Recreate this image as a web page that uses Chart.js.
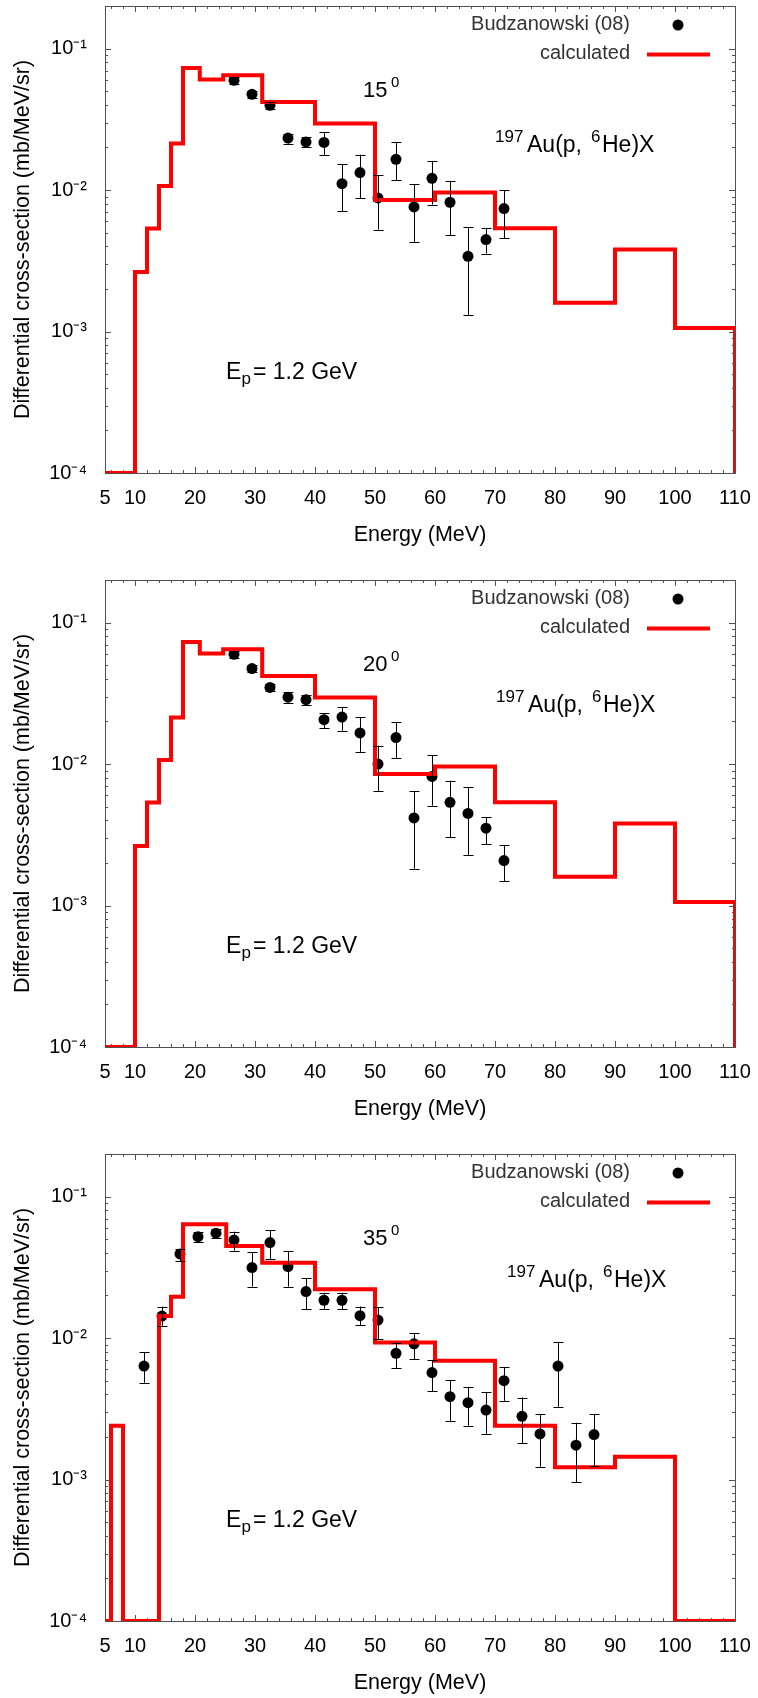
<!DOCTYPE html>
<html>
<head>
<meta charset="utf-8">
<script src="https://cdn.jsdelivr.net/npm/chart.js@4.4.1/dist/chart.umd.min.js"></script>
<style>
html, body { margin: 0; padding: 0; overflow: hidden; background: #fff; }
.panel { position: relative; width: 758px; height: 574px; }
</style>
</head>
<body>
<div class="panel"><canvas id="chart15"></canvas></div>
<div class="panel"><canvas id="chart20"></canvas></div>
<div class="panel"><canvas id="chart35"></canvas></div>
<script>
const FONT = "'Liberation Sans', Arial, Helvetica, sans-serif";

const xTickValues = [5, 10, 20, 30, 40, 50, 60, 70, 80, 90, 100, 110];
const yTickValues = [1e-4, 1e-3, 1e-2, 1e-1];

// Budzanowski (08), 15 deg
const energy15 = [26.5, 29.5, 32.5, 35.5, 38.5, 41.5, 44.5, 47.5, 50.5, 53.5, 56.5, 59.5, 62.5, 65.5, 68.5, 71.5];
const value15 = [0.0597, 0.0475, 0.0397, 0.0233, 0.0219, 0.0217, 0.0111, 0.0133, 0.0088, 0.0165, 0.0076, 0.0121, 0.0082, 0.0034, 0.00447, 0.0074];
const errLow15 = [0.0565, 0.0447, 0.0375, 0.0213, 0.0202, 0.0176, 0.0071, 0.0088, 0.00526, 0.0117, 0.0043, 0.0079, 0.0048, 0.00131, 0.00356, 0.00456];
const errHigh15 = [0.063, 0.0503, 0.042, 0.0251, 0.0237, 0.0258, 0.0152, 0.0178, 0.0127, 0.0217, 0.011, 0.0161, 0.0116, 0.0055, 0.0054, 0.0100];

// Budzanowski (08), 20 deg
const energy20 = [26.5, 29.5, 32.5, 35.5, 38.5, 41.5, 44.5, 47.5, 50.5, 53.5, 56.5, 59.5, 62.5, 65.5, 68.5, 71.5];
const value20 = [0.0597, 0.0473, 0.0348, 0.0297, 0.0285, 0.0206, 0.0215, 0.0166, 0.0100, 0.0154, 0.00416, 0.00818, 0.00536, 0.00448, 0.00352, 0.00208];
const errLow20 = [0.0565, 0.0445, 0.0328, 0.0272, 0.026, 0.0179, 0.0172, 0.0122, 0.00645, 0.0110, 0.00182, 0.00508, 0.00305, 0.00226, 0.00271, 0.00149];
const errHigh20 = [0.063, 0.050, 0.037, 0.0322, 0.031, 0.0229, 0.0252, 0.0215, 0.0135, 0.0198, 0.0064, 0.0115, 0.00762, 0.00689, 0.00423, 0.00268];

// Budzanowski (08), 35 deg
const energy35 = [11.5, 14.5, 17.5, 20.5, 23.5, 26.5, 29.5, 32.5, 35.5, 38.5, 41.5, 44.5, 47.5, 50.5, 53.5, 56.5, 59.5, 62.5, 65.5, 68.5, 71.5, 74.5, 77.5, 80.5, 83.5, 86.5];
const value35 = [0.00634, 0.0143, 0.0393, 0.0521, 0.0551, 0.0493, 0.0315, 0.0473, 0.032, 0.0213, 0.0185, 0.0185, 0.0144, 0.0134, 0.0078, 0.0091, 0.0057, 0.00385, 0.00349, 0.0031, 0.005, 0.0028, 0.0021, 0.00634, 0.00175, 0.00208];
const errLow35 = [0.00483, 0.0122, 0.0348, 0.048, 0.051, 0.0415, 0.0231, 0.0362, 0.0231, 0.016, 0.016, 0.016, 0.0123, 0.0098, 0.0061, 0.0071, 0.0042, 0.0026, 0.0024, 0.0021, 0.0036, 0.0018, 0.00123, 0.00327, 0.00096, 0.00124];
const errHigh35 = [0.00793, 0.0167, 0.0424, 0.056, 0.059, 0.0565, 0.0404, 0.0578, 0.0413, 0.0264, 0.0209, 0.0209, 0.0167, 0.0165, 0.0093, 0.0108, 0.0070, 0.00505, 0.00453, 0.00413, 0.0062, 0.0038, 0.0029, 0.0094, 0.00252, 0.0029];

// calculated histograms: left bin edge and bin value (last entry closes the last bin)
const calcEdges15 = [5, 10, 12, 14, 16, 18, 20.8, 24.7, 31.2, 40, 50, 60, 70, 80, 90, 100, 110];
const calcValues15 = [1e-4, 0.00264, 0.00535, 0.0107, 0.0213, 0.0729, 0.0604, 0.0648, 0.042, 0.0296, 0.0085, 0.0096, 0.00537, 0.0016, 0.0038, 0.00106, 1e-4];
const calcEdges20 = [5, 10, 12, 14, 16, 18, 20.8, 24.7, 31.2, 40, 50, 60, 70, 80, 90, 100, 110];
const calcValues20 = [1e-4, 0.00264, 0.00535, 0.0107, 0.0213, 0.0729, 0.0604, 0.0648, 0.042, 0.0296, 0.0085, 0.0096, 0.00537, 0.0016, 0.0038, 0.00106, 1e-4];
const calcEdges35 = [5, 6, 8, 14, 16, 18, 25.2, 31.2, 40, 50, 60, 70, 80, 90, 100, 110];
const calcValues35 = [1e-4, 0.0024, 1e-4, 0.0143, 0.0196, 0.0637, 0.0448, 0.034, 0.0221, 0.0093, 0.0069, 0.0024, 0.00122, 0.00145, 1e-4, 1e-4];

const superDigits = { '-': '\u207B', '0': '\u2070', '1': '\u00B9', '2': '\u00B2', '3': '\u00B3', '4': '\u2074' };
function powerLabel(v) {
    const exp = String(Math.round(Math.log10(v)));
    return '10' + exp.split('').map(c => superDigits[c]).join('');
}

// frame and inward ticks on all four sides, like gnuplot
const frameTicks = {
    id: 'frameTicks',
    beforeDatasetsDraw(chart) {
        const { ctx, chartArea: a, scales: { x, y } } = chart;
        ctx.save();
        ctx.strokeStyle = '#505050';
        ctx.lineWidth = 1;
        ctx.strokeRect(Math.round(a.left) + 0.5, Math.round(a.top) + 0.5, Math.round(a.right - a.left), Math.round(a.bottom - a.top));
        ctx.beginPath();
        for (let e = 6; e < 110; e += 2) {
            const px = Math.round(x.getPixelForValue(e)) + 0.5;
            const len = e % 10 === 0 ? 6 : 3;
            ctx.moveTo(px, a.bottom); ctx.lineTo(px, a.bottom - len);
            ctx.moveTo(px, a.top); ctx.lineTo(px, a.top + len);
        }
        for (let d = -4; d <= -1; d++) {
            for (let m = 1; m <= 9; m++) {
                const v = m * Math.pow(10, d);
                if (v >= y.max) break;
                const py = Math.round(y.getPixelForValue(v)) + 0.5;
                const len = m === 1 ? 6 : 3;
                ctx.moveTo(a.left, py); ctx.lineTo(a.left + len, py);
                ctx.moveTo(a.right, py); ctx.lineTo(a.right - len, py);
            }
        }
        ctx.stroke();
        ctx.restore();
    }
};

const errorBars = {
    id: 'errorBars',
    afterDatasetsDraw(chart, args, opts) {
        const { ctx, scales: { x, y } } = chart;
        const pts = chart.data.datasets[1].data;
        ctx.save();
        ctx.strokeStyle = '#000';
        ctx.lineWidth = 1;
        ctx.beginPath();
        pts.forEach((p, i) => {
            const px = Math.round(x.getPixelForValue(p.x)) + 0.5;
            const lo = y.getPixelForValue(opts.low[i]);
            const hi = y.getPixelForValue(opts.high[i]);
            ctx.moveTo(px, lo); ctx.lineTo(px, hi);
            ctx.moveTo(px - 5, Math.round(lo) + 0.5); ctx.lineTo(px + 5, Math.round(lo) + 0.5);
            ctx.moveTo(px - 5, Math.round(hi) + 0.5); ctx.lineTo(px + 5, Math.round(hi) + 0.5);
        });
        ctx.stroke();
        ctx.restore();
    }
};

const decor = {
    id: 'decor',
    afterDraw(chart, args, opts) {
        const ctx = chart.ctx;
        ctx.save();
        // key
        ctx.fillStyle = '#333';
        ctx.font = `20px ${FONT}`;
        ctx.textAlign = 'right';
        ctx.textBaseline = 'middle';
        ctx.fillText('Budzanowski (08)', 630, 24);
        ctx.fillText('calculated', 630, 53);
        ctx.fillStyle = '#000';
        ctx.beginPath();
        ctx.arc(678, 25, 5.5, 0, 2 * Math.PI);
        ctx.fill();
        ctx.strokeStyle = '#ff0000';
        ctx.lineWidth = 4;
        ctx.beginPath();
        ctx.moveTo(647, 54.5);
        ctx.lineTo(710, 54.5);
        ctx.stroke();

        ctx.textAlign = 'left';
        ctx.textBaseline = 'alphabetic';
        ctx.fillStyle = '#000';
        // angle
        ctx.font = `22px ${FONT}`;
        ctx.fillText(opts.angle, 363, 96.5);
        ctx.font = `15px ${FONT}`;
        ctx.fillText('0', 391, 87);
        // reaction
        const r = opts.reaction;
        ctx.font = `17px ${FONT}`;
        ctx.fillText('197', r.x, r.y - 10.5);
        ctx.font = `23px ${FONT}`;
        ctx.fillText('Au(p,', r.x + 32, r.y);
        ctx.font = `17px ${FONT}`;
        ctx.fillText('6', r.x + 96, r.y - 10.5);
        ctx.font = `23px ${FONT}`;
        ctx.fillText('He)X', r.x + 107, r.y);
        // beam energy
        ctx.font = `23px ${FONT}`;
        ctx.fillText('E', 226, 378.5);
        ctx.font = `17px ${FONT}`;
        ctx.fillText('p', 241.5, 384);
        ctx.font = `23px ${FONT}`;
        ctx.fillText('= 1.2 GeV', 253, 378.5);
        ctx.restore();
    }
};

function makeChart(id, angle, reaction, energy, values, low, high, edges, calc) {
    const canvas = document.getElementById(id);
    return new Chart(canvas, {
        data: {
            datasets: [{
                type: 'line',
                label: 'calculated',
                data: edges.map((e, i) => ({ x: e, y: calc[i] })),
                stepped: true,
                borderColor: '#ff0000',
                borderWidth: 4,
                borderJoinStyle: 'miter',
                borderCapStyle: 'butt',
                pointRadius: 0,
                fill: false,
            }, {
                type: 'scatter',
                label: 'Budzanowski (08)',
                data: energy.map((e, i) => ({ x: e, y: values[i] })),
                backgroundColor: '#000',
                borderWidth: 0,
                pointRadius: 5.5,
            }]
        },
        options: {
            responsive: true,
            maintainAspectRatio: false,
            animation: false,
            events: [],
            layout: { padding: { left: 0, top: 6, right: 23, bottom: 0 } },
            scales: {
                x: {
                    type: 'linear',
                    min: 5,
                    max: 110,
                    afterBuildTicks: s => { s.ticks = xTickValues.map(v => ({ value: v })); },
                    afterFit: s => { s.height = 101; s.paddingLeft = 0; s.paddingRight = 0; },
                    grid: { display: false, drawTicks: false },
                    border: { display: false },
                    ticks: {
                        padding: 13,
                        color: '#000',
                        autoSkip: false,
                        maxRotation: 0,
                        font: { size: 20, family: FONT, lineHeight: 1.2 },
                        callback: v => String(v),
                    },
                    title: {
                        display: true,
                        text: 'Energy (MeV)',
                        color: '#000',
                        font: { size: 21.5, family: FONT, lineHeight: 1.2 },
                        padding: { top: 0, bottom: 26 },
                    },
                },
                y: {
                    type: 'logarithmic',
                    min: 1e-4,
                    max: 0.2,
                    afterBuildTicks: s => { s.ticks = yTickValues.map(v => ({ value: v })); },
                    afterFit: s => { s.width = 105; s.paddingTop = 0; s.paddingBottom = 0; },
                    grid: { display: false, drawTicks: false },
                    border: { display: false },
                    ticks: {
                        padding: 18,
                        color: '#000',
                        font: { size: 20, family: FONT },
                        callback: v => powerLabel(v),
                    },
                    title: {
                        display: true,
                        text: 'Differential cross-section (mb/MeV/sr)',
                        color: '#000',
                        font: { size: 21.5, family: FONT, lineHeight: 1.2 },
                        padding: { top: 10, bottom: 0 },
                    },
                },
            },
            plugins: {
                legend: { display: false },
                tooltip: { enabled: false },
                errorBars: { low: low, high: high },
                decor: { angle: angle, reaction: reaction },
            },
        },
        plugins: [frameTicks, errorBars, decor],
    });
}

makeChart('chart15', '15', { x: 495, y: 152 }, energy15, value15, errLow15, errHigh15, calcEdges15, calcValues15);
makeChart('chart20', '20', { x: 496, y: 138 }, energy20, value20, errLow20, errHigh20, calcEdges20, calcValues20);
makeChart('chart35', '35', { x: 507, y: 139 }, energy35, value35, errLow35, errHigh35, calcEdges35, calcValues35);
</script>
</body>
</html>
